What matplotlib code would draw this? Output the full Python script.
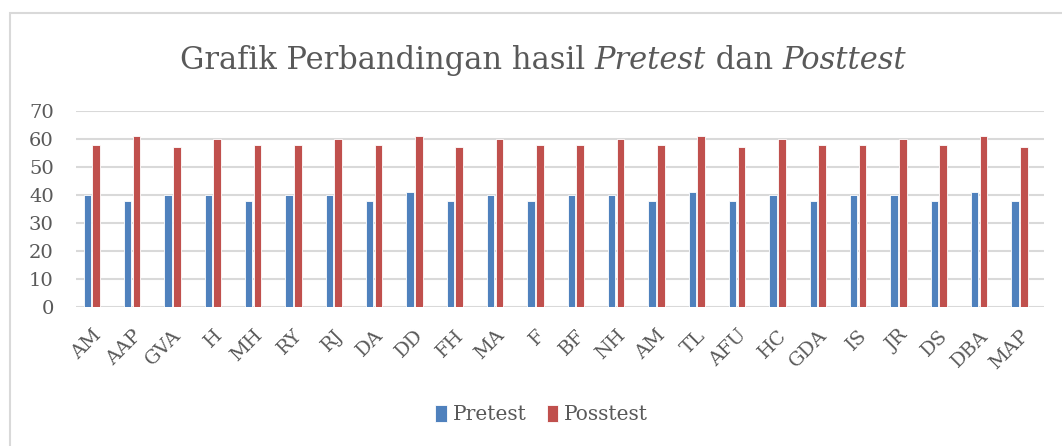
import matplotlib.pyplot as plt
import numpy as np
from matplotlib.patches import Rectangle

# data
names = ['AM', 'AAP', 'GVA', 'H', 'MH', 'RY', 'RJ', 'DA', 'DD', 'FH', 'MA', 'F',
         'BF', 'NH', 'AM', 'TL', 'AFU', 'HC', 'GDA', 'IS', 'JR', 'DS', 'DBA', 'MAP']
pretest = [40, 38, 40, 40, 38, 40, 40, 38, 41, 38, 40, 38,
           40, 40, 38, 41, 38, 40, 38, 40, 40, 38, 41, 38]
posttest = [58, 61, 57, 60, 58, 58, 60, 58, 61, 57, 60, 58,
            58, 60, 58, 61, 57, 60, 58, 58, 60, 58, 61, 57]

blue = '#4F81BD'
red = '#C0504D'
txt = '#595959'
serif = 'DejaVu Serif'

fig = plt.figure(figsize=(10.62, 4.46), dpi=100)
ax = fig.add_axes([0.0716, 0.3117, 0.9115, 0.4395])

x = np.arange(len(names))
w = 0.185
ax.bar(x - 0.11, pretest, w, color=blue, edgecolor='white', linewidth=0.6, label='Pretest', zorder=3)
ax.bar(x + 0.11, posttest, w, color=red, edgecolor='white', linewidth=0.6, label='Posstest', zorder=3)

ax.set_ylim(0, 70)
ax.set_yticks(range(0, 71, 10))
ax.set_xlim(-0.39, len(names) - 1 + 0.61)
ax.yaxis.grid(True, color='#d9d9d9', linewidth=1.5, zorder=0)
for s in ax.spines.values():
    s.set_visible(False)
ax.tick_params(axis='both', length=0, colors=txt)
ax.tick_params(axis='y', labelsize=14, pad=16)
for lab in ax.get_yticklabels():
    lab.set_family(serif)

ax.set_xticks(x)
ax.set_xticklabels(names, rotation=45, ha='right', va='top', rotation_mode='anchor',
                   family=serif, fontsize=14, color=txt)
ax.tick_params(axis='x', pad=14)

# title with italic words
parts = [('Grafik Perbandingan hasil ', 'normal'), ('Pretest', 'italic'),
         (' dan ', 'normal'), ('Posttest', 'italic')]
fig.canvas.draw()
r = fig.canvas.get_renderer()
objs = []
total = 0
for s, st in parts:
    t = fig.text(0, 0.865, s, family=serif, style=st, fontsize=22, color=txt, va='center')
    bb = t.get_window_extent(renderer=r)
    objs.append((t, bb.width))
    total += bb.width
x0 = (543 - total / 2) / fig.bbox.width
for t, wd in objs:
    t.set_x(x0)
    x0 += wd / fig.bbox.width

leg = fig.legend(loc='center', bbox_to_anchor=(0.51, 0.07), ncol=2, frameon=False,
                 handlelength=0.55, handleheight=0.9, handletextpad=0.3, columnspacing=1.0,
                 prop={'family': serif, 'size': 14.5})
for t in leg.get_texts():
    t.set_color(txt)

border = Rectangle((10 / 1062, -0.05), 1.1, 1 - 13 / 446 + 0.05, transform=fig.transFigure,
                   fill=False, edgecolor='#d9d9d9', linewidth=1.5)
fig.patches.append(border)

fig.savefig('out.png', dpi=100)
